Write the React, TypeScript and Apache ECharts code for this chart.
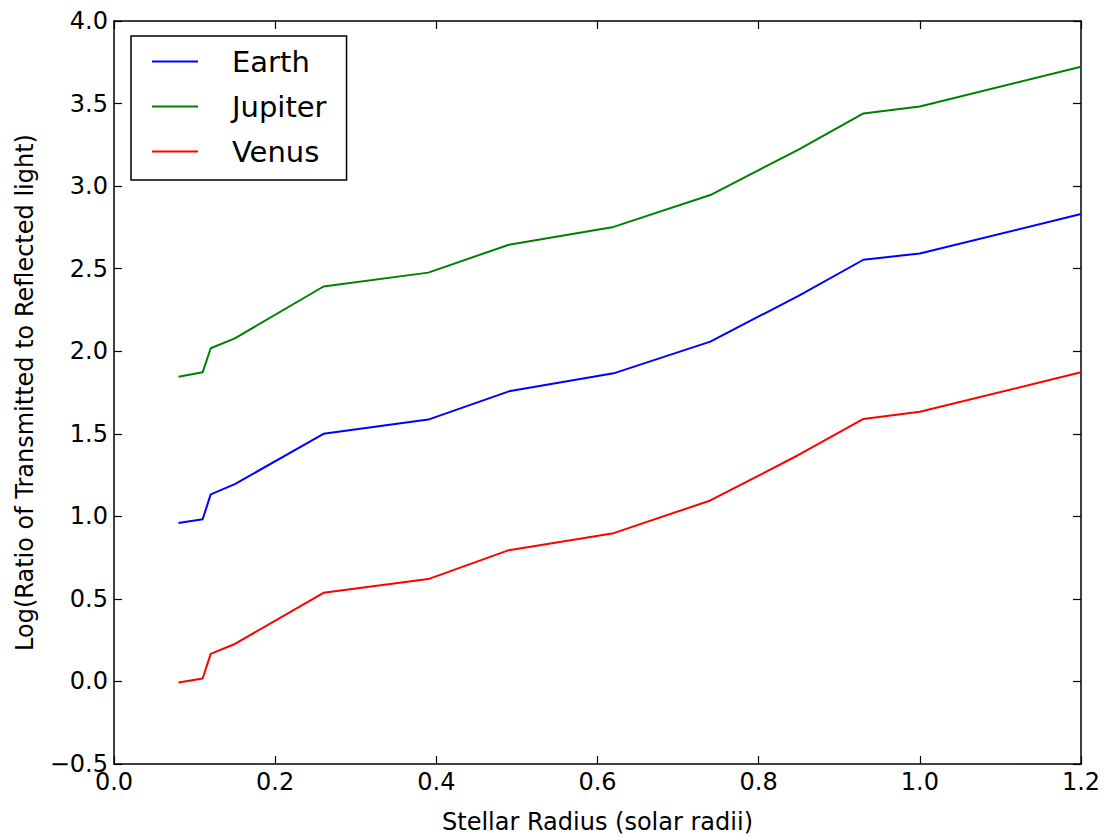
import React, { useEffect, useRef } from "react";
import * as echarts from "echarts";

const radii = [0.08, 0.11, 0.12, 0.15, 0.26, 0.39, 0.49, 0.62, 0.74, 0.85, 0.93, 1.0, 1.2];
const earth = [0.96, 0.982, 1.133, 1.195, 1.5, 1.586, 1.757, 1.866, 2.058, 2.337, 2.554, 2.592, 2.831];
const jupiter = [1.845, 1.872, 2.018, 2.078, 2.392, 2.476, 2.645, 2.753, 2.946, 3.223, 3.44, 3.482, 3.723];
const venus = [-0.006, 0.018, 0.167, 0.227, 0.537, 0.62, 0.795, 0.898, 1.096, 1.373, 1.59, 1.633, 1.873];

const seriesNames = ["Earth", "Jupiter", "Venus"];
const seriesData = [earth, jupiter, venus];
const seriesColors = ["#0000ff", "#008000", "#ff0000"];

const xTitle = "Stellar Radius (solar radii)";
const yTitle = "Log(Ratio of Transmitted to Reflected light)";

const FONT = "DejaVu Sans";

export default function App() {
  const ref = useRef<HTMLDivElement>(null);
  useEffect(() => {
    if (!ref.current) return;
    const chart = echarts.init(ref.current, null, { renderer: "svg" });
    const fmt = (v: number) => v.toFixed(1).replace("-", "\u2212");
    const axisLine = { show: true, onZero: false, lineStyle: { color: "#000", width: 1.5 } };
    const tick = { show: true, inside: true, length: 8, lineStyle: { color: "#000", width: 1.2 } };
    chart.setOption({
      animation: false,
      backgroundColor: "#fff",
      grid: { left: 114, right: 33, top: 21, bottom: 71, containLabel: false },
      legend: {
        orient: "vertical",
        left: 131,
        top: 36,
        data: seriesNames,
        icon: "rect",
        borderColor: "#000",
        borderWidth: 1.5,
        borderRadius: 0,
        padding: [11, 20, 14, 21],
        itemWidth: 46,
        itemHeight: 2,
        itemGap: 16,
        textStyle: {
          fontFamily: FONT,
          fontSize: 29,
          lineHeight: 29,
          color: "#000",
          padding: [0, 0, 0, 29],
        },
      },
      xAxis: [
        {
          type: "value",
          min: 0,
          max: 1.2,
          interval: 0.2,
          position: "bottom",
          name: xTitle,
          nameLocation: "middle",
          nameGap: 46,
          nameTextStyle: { fontFamily: FONT, fontSize: 24, color: "#000" },
          axisLine,
          axisTick: tick,
          splitLine: { show: false },
          axisLabel: { fontFamily: FONT, fontSize: 24, color: "#000", margin: 6, formatter: fmt },
        },
        {
          type: "value",
          min: 0,
          max: 1.2,
          interval: 0.2,
          position: "top",
          axisLine,
          axisTick: tick,
          splitLine: { show: false },
          axisLabel: { show: false },
        },
      ],
      yAxis: [
        {
          type: "value",
          min: -0.5,
          max: 4,
          interval: 0.5,
          position: "left",
          name: yTitle,
          nameLocation: "middle",
          nameGap: 77,
          nameTextStyle: { fontFamily: FONT, fontSize: 24, color: "#000" },
          axisLine,
          axisTick: tick,
          splitLine: { show: false },
          axisLabel: { fontFamily: FONT, fontSize: 24, color: "#000", margin: 6, formatter: fmt },
        },
        {
          type: "value",
          min: -0.5,
          max: 4,
          interval: 0.5,
          position: "right",
          axisLine,
          axisTick: tick,
          splitLine: { show: false },
          axisLabel: { show: false },
        },
      ],
      series: seriesNames.map((name, i) => ({
        name,
        type: "line",
        xAxisIndex: 0,
        yAxisIndex: 0,
        symbol: "none",
        data: radii.map((r, j) => [r, seriesData[i][j]]),
        lineStyle: { color: seriesColors[i], width: 2 },
        itemStyle: { color: seriesColors[i] },
      })),
    });
    return () => chart.dispose();
  }, []);
  return (
    <div
      ref={ref}
      style={{ position: "fixed", left: 0, top: 0, width: 1114, height: 839 }}
    />
  );
}
